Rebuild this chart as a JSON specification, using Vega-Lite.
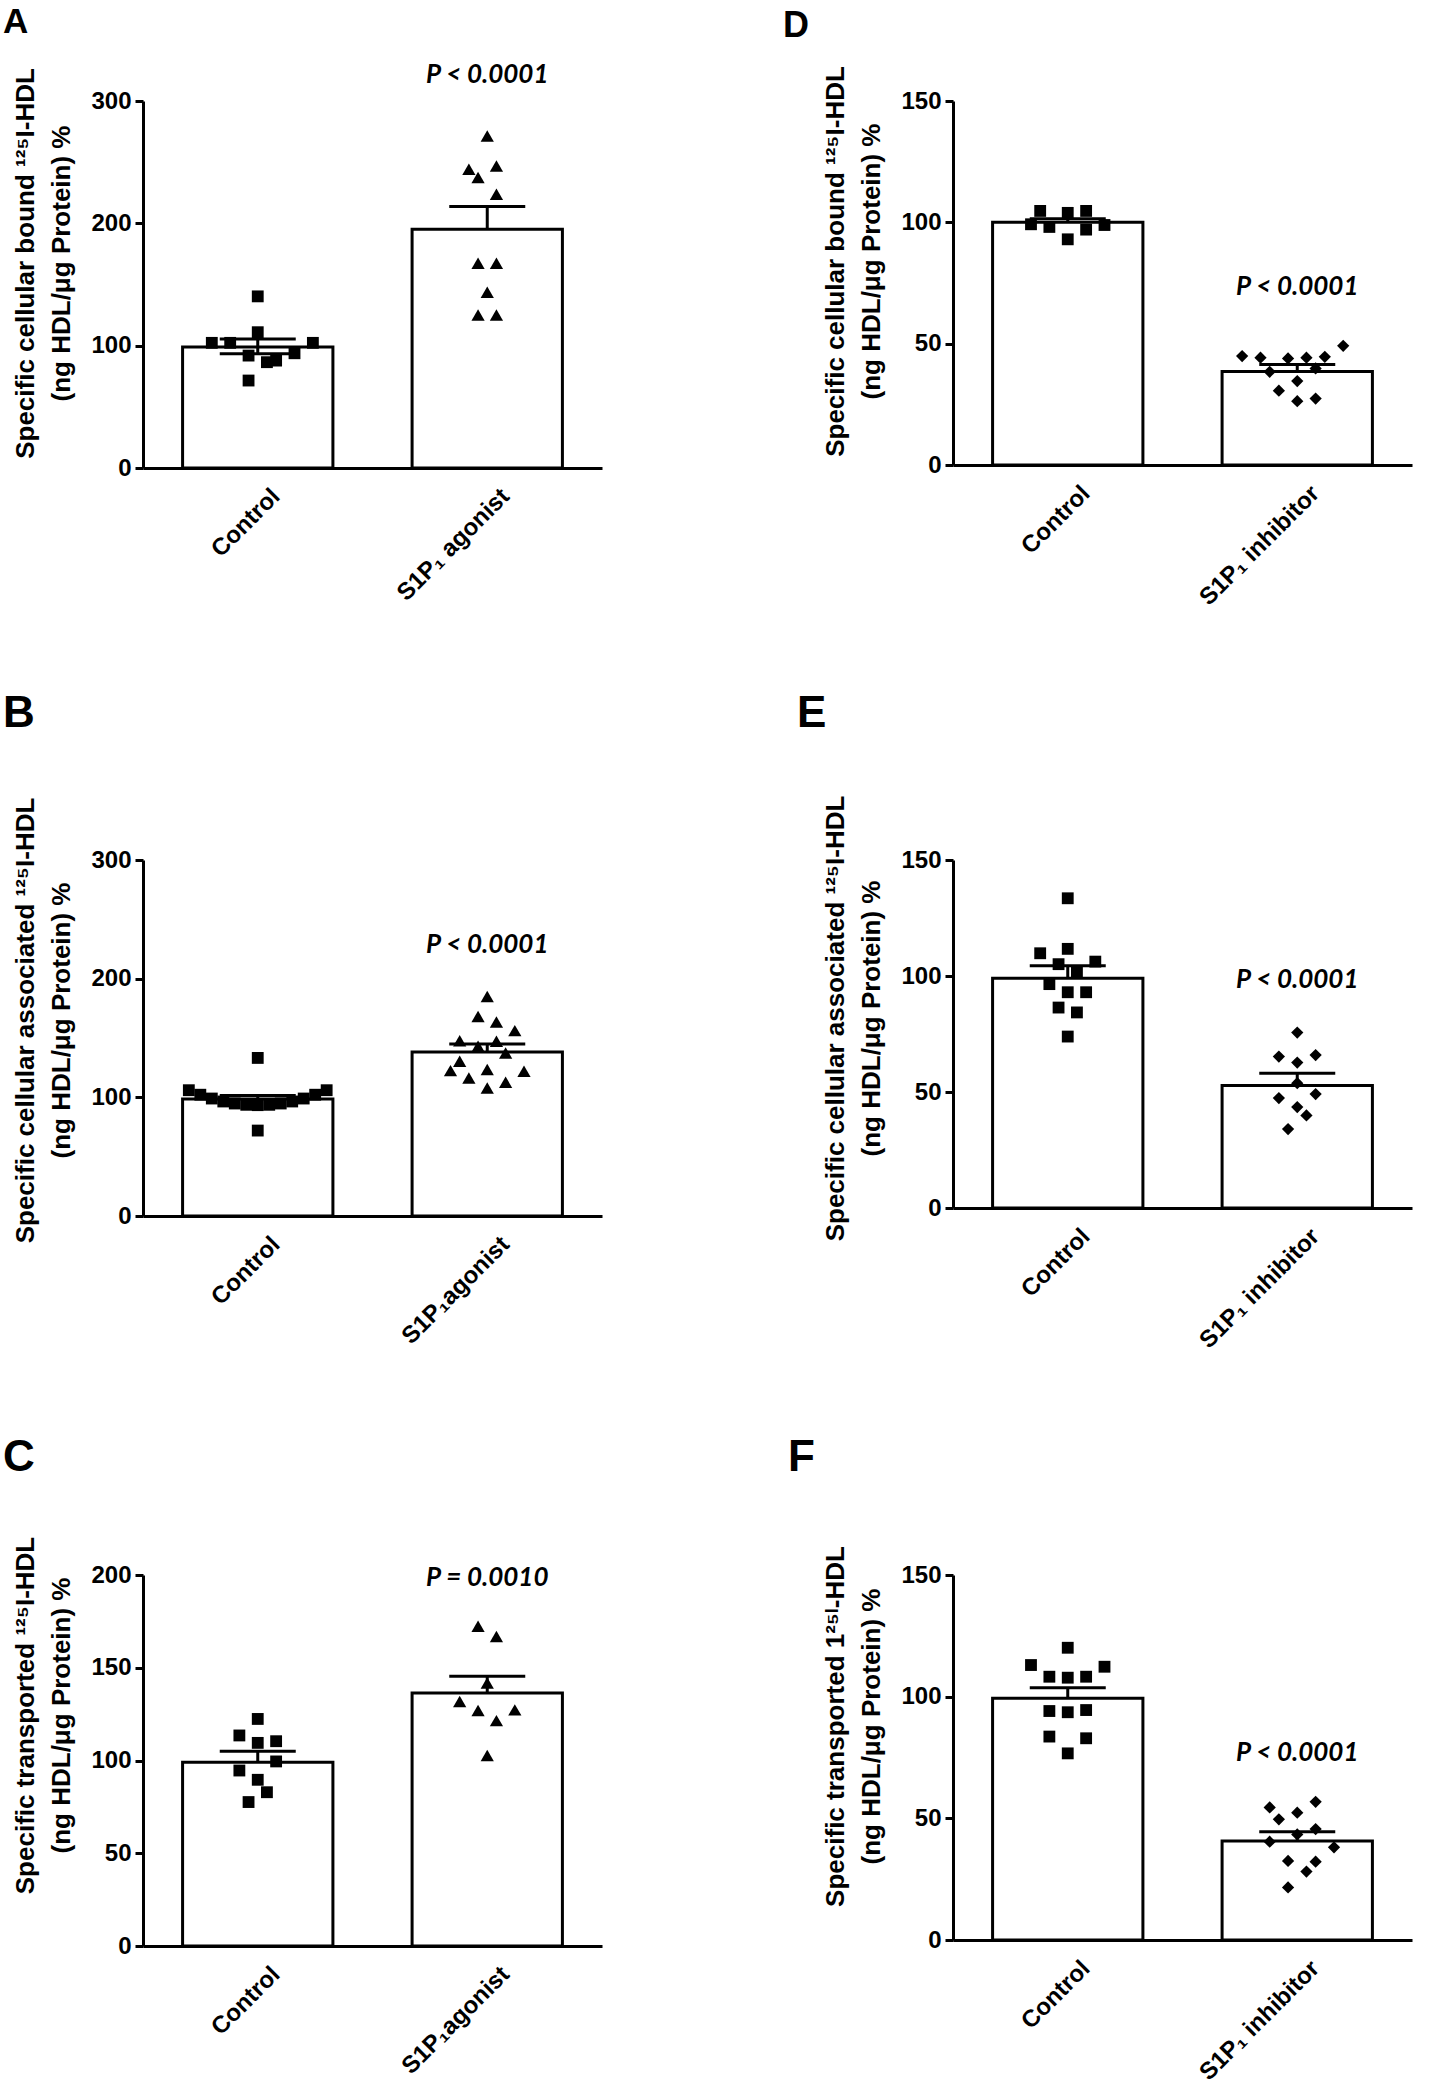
{
  "$schema": "https://vega.github.io/schema/vega-lite/v6.json",
  "background": "white",
  "padding": {"left": 3, "top": 5, "right": 5, "bottom": 2},
  "spacing": 82,
  "resolve": {"scale": {"shape": "independent", "size": "independent"}},
  "datasets": {
    "sum": [
      {"p": "A", "g": "C", "m": 99.0, "hi": 105.5, "lo": 93.3},
      {"p": "A", "g": "T", "m": 195.2, "hi": 213.8, "lo": 195.2, "pt": "P < 0.0001", "ly": 321},
      {"p": "B", "g": "C", "m": 98.7, "hi": 101.5, "lo": 98.7},
      {"p": "B", "g": "T", "m": 138.2, "hi": 144.9, "lo": 138.2, "pt": "P < 0.0001", "ly": 228.5},
      {"p": "C", "g": "C", "m": 99.1, "hi": 105.0, "lo": 99.1},
      {"p": "C", "g": "T", "m": 136.4, "hi": 145.4, "lo": 136.4, "pt": "P = 0.0010", "ly": 198.2},
      {"p": "D", "g": "C", "m": 100.0, "hi": 101.5, "lo": 100.0},
      {"p": "D", "g": "T", "m": 38.5, "hi": 41.4, "lo": 38.5, "pt": "P < 0.0001", "ly": 73.4},
      {"p": "E", "g": "C", "m": 99.0, "hi": 104.4, "lo": 99.0},
      {"p": "E", "g": "T", "m": 52.8, "hi": 58.1, "lo": 52.8, "pt": "P < 0.0001", "ly": 98.3},
      {"p": "F", "g": "C", "m": 99.3, "hi": 103.7, "lo": 99.3},
      {"p": "F", "g": "T", "m": 40.7, "hi": 44.5, "lo": 40.7, "pt": "P < 0.0001", "ly": 76.7}
    ],
    "pts": [
      {"p": "A", "g": "C", "v": 140.3, "dx": 0},
      {"p": "A", "g": "C", "v": 102.3, "dx": -5},
      {"p": "A", "g": "C", "v": 102.3, "dx": -3},
      {"p": "A", "g": "C", "v": 111.0, "dx": 0},
      {"p": "A", "g": "C", "v": 102.3, "dx": 6},
      {"p": "A", "g": "C", "v": 91.9, "dx": -1},
      {"p": "A", "g": "C", "v": 86.5, "dx": 1},
      {"p": "A", "g": "C", "v": 87.8, "dx": 2},
      {"p": "A", "g": "C", "v": 93.8, "dx": 4},
      {"p": "A", "g": "C", "v": 71.5, "dx": -1},
      {"p": "A", "g": "T", "v": 271.4, "dx": 0},
      {"p": "A", "g": "T", "v": 244.2, "dx": -2},
      {"p": "A", "g": "T", "v": 246.9, "dx": 1},
      {"p": "A", "g": "T", "v": 237.4, "dx": -1},
      {"p": "A", "g": "T", "v": 223.8, "dx": 1},
      {"p": "A", "g": "T", "v": 167.3, "dx": -1},
      {"p": "A", "g": "T", "v": 167.3, "dx": 1},
      {"p": "A", "g": "T", "v": 143.6, "dx": 0},
      {"p": "A", "g": "T", "v": 125.1, "dx": -1},
      {"p": "A", "g": "T", "v": 125.1, "dx": 1},
      {"p": "B", "g": "C", "v": 106.0, "dx": -7.5},
      {"p": "B", "g": "C", "v": 102.2, "dx": -6.25},
      {"p": "B", "g": "C", "v": 99.0, "dx": -5},
      {"p": "B", "g": "C", "v": 96.5, "dx": -3.75},
      {"p": "B", "g": "C", "v": 94.8, "dx": -2.5},
      {"p": "B", "g": "C", "v": 93.7, "dx": -1.25},
      {"p": "B", "g": "C", "v": 93.4, "dx": 0},
      {"p": "B", "g": "C", "v": 93.7, "dx": 1.25},
      {"p": "B", "g": "C", "v": 94.8, "dx": 2.5},
      {"p": "B", "g": "C", "v": 96.5, "dx": 3.75},
      {"p": "B", "g": "C", "v": 99.0, "dx": 5},
      {"p": "B", "g": "C", "v": 102.2, "dx": 6.25},
      {"p": "B", "g": "C", "v": 106.0, "dx": 7.5},
      {"p": "B", "g": "C", "v": 133.2, "dx": 0},
      {"p": "B", "g": "C", "v": 72.0, "dx": 0},
      {"p": "B", "g": "T", "v": 185.0, "dx": 0},
      {"p": "B", "g": "T", "v": 168.2, "dx": -1},
      {"p": "B", "g": "T", "v": 163.4, "dx": 1},
      {"p": "B", "g": "T", "v": 156.2, "dx": 3},
      {"p": "B", "g": "T", "v": 147.7, "dx": -3},
      {"p": "B", "g": "T", "v": 147.2, "dx": 1},
      {"p": "B", "g": "T", "v": 143.0, "dx": -1},
      {"p": "B", "g": "T", "v": 137.4, "dx": 2},
      {"p": "B", "g": "T", "v": 130.4, "dx": -3},
      {"p": "B", "g": "T", "v": 122.5, "dx": -4},
      {"p": "B", "g": "T", "v": 123.4, "dx": 0},
      {"p": "B", "g": "T", "v": 122.0, "dx": 4},
      {"p": "B", "g": "T", "v": 116.3, "dx": -2},
      {"p": "B", "g": "T", "v": 112.7, "dx": 2},
      {"p": "B", "g": "T", "v": 107.9, "dx": 0},
      {"p": "C", "g": "C", "v": 122.4, "dx": 0},
      {"p": "C", "g": "C", "v": 113.5, "dx": -2},
      {"p": "C", "g": "C", "v": 110.4, "dx": 2},
      {"p": "C", "g": "C", "v": 109.5, "dx": 0},
      {"p": "C", "g": "C", "v": 99.5, "dx": 2},
      {"p": "C", "g": "C", "v": 94.6, "dx": -2},
      {"p": "C", "g": "C", "v": 89.6, "dx": 0},
      {"p": "C", "g": "C", "v": 82.9, "dx": 1},
      {"p": "C", "g": "C", "v": 77.6, "dx": -1},
      {"p": "C", "g": "T", "v": 172.4, "dx": -1},
      {"p": "C", "g": "T", "v": 166.8, "dx": 1},
      {"p": "C", "g": "T", "v": 141.8, "dx": 0},
      {"p": "C", "g": "T", "v": 131.8, "dx": -3},
      {"p": "C", "g": "T", "v": 126.9, "dx": -1},
      {"p": "C", "g": "T", "v": 127.3, "dx": 3},
      {"p": "C", "g": "T", "v": 121.5, "dx": 1},
      {"p": "C", "g": "T", "v": 102.7, "dx": 0},
      {"p": "D", "g": "C", "v": 99.2, "dx": -4},
      {"p": "D", "g": "C", "v": 104.7, "dx": -3},
      {"p": "D", "g": "C", "v": 98.1, "dx": -2},
      {"p": "D", "g": "C", "v": 103.9, "dx": 0},
      {"p": "D", "g": "C", "v": 93.0, "dx": 0},
      {"p": "D", "g": "C", "v": 104.7, "dx": 2},
      {"p": "D", "g": "C", "v": 97.0, "dx": 2},
      {"p": "D", "g": "C", "v": 98.9, "dx": 4},
      {"p": "D", "g": "T", "v": 44.9, "dx": -6},
      {"p": "D", "g": "T", "v": 44.2, "dx": -4},
      {"p": "D", "g": "T", "v": 43.9, "dx": -1},
      {"p": "D", "g": "T", "v": 44.2, "dx": 1},
      {"p": "D", "g": "T", "v": 44.6, "dx": 3},
      {"p": "D", "g": "T", "v": 49.1, "dx": 5},
      {"p": "D", "g": "T", "v": 38.4, "dx": -3},
      {"p": "D", "g": "T", "v": 39.8, "dx": 2},
      {"p": "D", "g": "T", "v": 34.6, "dx": 0},
      {"p": "D", "g": "T", "v": 30.6, "dx": -2},
      {"p": "D", "g": "T", "v": 26.3, "dx": 0},
      {"p": "D", "g": "T", "v": 27.4, "dx": 2},
      {"p": "E", "g": "C", "v": 133.5, "dx": 0},
      {"p": "E", "g": "C", "v": 109.8, "dx": -3},
      {"p": "E", "g": "C", "v": 111.7, "dx": 0},
      {"p": "E", "g": "C", "v": 106.2, "dx": 3},
      {"p": "E", "g": "C", "v": 105.1, "dx": -1},
      {"p": "E", "g": "C", "v": 101.5, "dx": 1},
      {"p": "E", "g": "C", "v": 96.5, "dx": -2},
      {"p": "E", "g": "C", "v": 93.0, "dx": 0},
      {"p": "E", "g": "C", "v": 93.0, "dx": 2},
      {"p": "E", "g": "C", "v": 86.4, "dx": -1},
      {"p": "E", "g": "C", "v": 84.3, "dx": 1},
      {"p": "E", "g": "C", "v": 73.9, "dx": 0},
      {"p": "E", "g": "T", "v": 75.6, "dx": 0},
      {"p": "E", "g": "T", "v": 65.3, "dx": -2},
      {"p": "E", "g": "T", "v": 65.9, "dx": 2},
      {"p": "E", "g": "T", "v": 62.7, "dx": 0},
      {"p": "E", "g": "T", "v": 53.8, "dx": 0},
      {"p": "E", "g": "T", "v": 49.1, "dx": 2},
      {"p": "E", "g": "T", "v": 47.4, "dx": -2},
      {"p": "E", "g": "T", "v": 43.5, "dx": 0},
      {"p": "E", "g": "T", "v": 39.9, "dx": 1},
      {"p": "E", "g": "T", "v": 34.0, "dx": -1},
      {"p": "F", "g": "C", "v": 120.1, "dx": 0},
      {"p": "F", "g": "C", "v": 113.0, "dx": -4},
      {"p": "F", "g": "C", "v": 112.3, "dx": 4},
      {"p": "F", "g": "C", "v": 108.2, "dx": -2},
      {"p": "F", "g": "C", "v": 107.8, "dx": 0},
      {"p": "F", "g": "C", "v": 108.2, "dx": 2},
      {"p": "F", "g": "C", "v": 94.1, "dx": -2},
      {"p": "F", "g": "C", "v": 93.6, "dx": 0},
      {"p": "F", "g": "C", "v": 94.5, "dx": 2},
      {"p": "F", "g": "C", "v": 83.6, "dx": -2},
      {"p": "F", "g": "C", "v": 82.9, "dx": 2},
      {"p": "F", "g": "C", "v": 76.7, "dx": 0},
      {"p": "F", "g": "T", "v": 56.8, "dx": 2},
      {"p": "F", "g": "T", "v": 54.5, "dx": -3},
      {"p": "F", "g": "T", "v": 52.3, "dx": 0},
      {"p": "F", "g": "T", "v": 49.6, "dx": -2},
      {"p": "F", "g": "T", "v": 45.6, "dx": 2},
      {"p": "F", "g": "T", "v": 43.4, "dx": 0},
      {"p": "F", "g": "T", "v": 40.4, "dx": -3},
      {"p": "F", "g": "T", "v": 38.1, "dx": 4},
      {"p": "F", "g": "T", "v": 32.5, "dx": -1},
      {"p": "F", "g": "T", "v": 32.2, "dx": 2},
      {"p": "F", "g": "T", "v": 28.1, "dx": 1},
      {"p": "F", "g": "T", "v": 21.6, "dx": -1}
    ]
  },
  "vconcat": [
    {
      "bounds": "flush",
      "spacing": 351,
      "resolve": {"scale": {"shape": "independent", "size": "independent"}},
      "hconcat": [
        {
          "width": 459, "height": 367,
          "title": {"text": "A", "anchor": "start", "frame": "group", "dx": -140, "offset": -6, "fontSize": 35, "baseline": "alphabetic"},
          "resolve": {"scale": {"xOffset": "independent"}},
          "encoding": {"x": {"field": "g", "type": "nominal", "title": null, "scale": {"domain": ["C", "T"], "paddingInner": 0.345, "paddingOuter": 0.1725}, "axis": {"labelExpr": "datum.value === 'C' ? 'Control' : 'S1P₁ agonist'"}}},
          "layer": [
            {"data": {"name": "sum"}, "transform": [{"filter": "datum.p === 'A'"}], "mark": {"type": "bar", "fill": "white", "stroke": "black", "strokeWidth": 3}, "encoding": {"y": {"field": "m", "type": "quantitative", "scale": {"domain": [0, 300], "nice": false}, "axis": {"values": [0, 100, 200, 300], "titleY": 162, "title": ["Specific cellular bound ¹²⁵I-HDL", "(ng HDL/μg Protein) %"]}}}},
            {"data": {"name": "pts"}, "transform": [{"filter": "datum.p === 'A'"}], "mark": {"type": "point", "filled": true, "color": "black", "opacity": 1, "strokeWidth": 0}, "encoding": {"y": {"field": "v", "type": "quantitative"}, "xOffset": {"field": "dx", "type": "quantitative", "scale": {"domain": [-8.18, 8.18]}}, "shape": {"field": "g", "type": "nominal", "scale": {"domain": ["C", "T"], "range": ["square", "triangle-up"]}, "legend": null}, "size": {"field": "g", "type": "nominal", "scale": {"domain": ["C", "T"], "range": [140, 175]}, "legend": null}}},
            {"data": {"name": "sum"}, "transform": [{"filter": "datum.p === 'A'"}], "mark": {"type": "rule", "strokeWidth": 3, "color": "black"}, "encoding": {"y": {"field": "lo", "type": "quantitative"}, "y2": {"field": "hi"}}},
            {"data": {"name": "sum"}, "transform": [{"filter": "datum.p === 'A'"}], "mark": {"type": "tick", "orient": "horizontal", "size": 76, "thickness": 3, "color": "black", "opacity": 1}, "encoding": {"y": {"field": "hi", "type": "quantitative"}}},
            {"data": {"name": "sum"}, "transform": [{"filter": "datum.p === 'A' && datum.lo < datum.m"}], "mark": {"type": "tick", "orient": "horizontal", "size": 76, "thickness": 3, "color": "black", "opacity": 1}, "encoding": {"y": {"field": "lo", "type": "quantitative"}}},
            {"data": {"name": "sum"}, "transform": [{"filter": "datum.p === 'A' && isValid(datum.pt)"}], "mark": {"type": "text", "font": "Lato", "fontStyle": "italic", "fontWeight": "bold", "fontSize": 26, "baseline": "middle", "color": "black"}, "encoding": {"y": {"field": "ly", "type": "quantitative"}, "text": {"field": "pt"}}}
          ]
        },
        {
          "width": 459, "height": 364,
          "title": {"text": "D", "anchor": "start", "frame": "group", "dx": -170, "offset": -7, "fontSize": 36, "baseline": "alphabetic"},
          "resolve": {"scale": {"xOffset": "independent"}},
          "encoding": {"x": {"field": "g", "type": "nominal", "title": null, "scale": {"domain": ["C", "T"], "paddingInner": 0.345, "paddingOuter": 0.1725}, "axis": {"labelExpr": "datum.value === 'C' ? 'Control' : 'S1P₁ inhibitor'"}}},
          "layer": [
            {"data": {"name": "sum"}, "transform": [{"filter": "datum.p === 'D'"}], "mark": {"type": "bar", "fill": "white", "stroke": "black", "strokeWidth": 3}, "encoding": {"y": {"field": "m", "type": "quantitative", "scale": {"domain": [0, 150], "nice": false}, "axis": {"values": [0, 50, 100, 150], "titleY": 160, "title": ["Specific cellular bound ¹²⁵I-HDL", "(ng HDL/μg Protein) %"]}}}},
            {"data": {"name": "pts"}, "transform": [{"filter": "datum.p === 'D'"}], "mark": {"type": "point", "filled": true, "color": "black", "opacity": 1, "strokeWidth": 0}, "encoding": {"y": {"field": "v", "type": "quantitative"}, "xOffset": {"field": "dx", "type": "quantitative", "scale": {"domain": [-8.18, 8.18]}}, "shape": {"field": "g", "type": "nominal", "scale": {"domain": ["C", "T"], "range": ["square", "diamond"]}, "legend": null}, "size": {"field": "g", "type": "nominal", "scale": {"domain": ["C", "T"], "range": [140, 150]}, "legend": null}}},
            {"data": {"name": "sum"}, "transform": [{"filter": "datum.p === 'D'"}], "mark": {"type": "rule", "strokeWidth": 3, "color": "black"}, "encoding": {"y": {"field": "lo", "type": "quantitative"}, "y2": {"field": "hi"}}},
            {"data": {"name": "sum"}, "transform": [{"filter": "datum.p === 'D'"}], "mark": {"type": "tick", "orient": "horizontal", "size": 76, "thickness": 3, "color": "black", "opacity": 1}, "encoding": {"y": {"field": "hi", "type": "quantitative"}}},
            {"data": {"name": "sum"}, "transform": [{"filter": "datum.p === 'D' && isValid(datum.pt)"}], "mark": {"type": "text", "font": "Lato", "fontStyle": "italic", "fontWeight": "bold", "fontSize": 26, "baseline": "middle", "color": "black"}, "encoding": {"y": {"field": "ly", "type": "quantitative"}, "text": {"field": "pt"}}}
          ]
        }
      ]
    },
    {
      "bounds": "flush",
      "spacing": 351,
      "resolve": {"scale": {"shape": "independent", "size": "independent"}},
      "hconcat": [
        {
          "width": 459, "height": 356,
          "title": {"text": "B", "anchor": "start", "frame": "group", "dx": -140, "offset": 26, "fontSize": 44, "baseline": "alphabetic"},
          "resolve": {"scale": {"xOffset": "independent"}},
          "encoding": {"x": {"field": "g", "type": "nominal", "title": null, "scale": {"domain": ["C", "T"], "paddingInner": 0.345, "paddingOuter": 0.1725}, "axis": {"labelExpr": "datum.value === 'C' ? 'Control' : 'S1P₁agonist'"}}},
          "layer": [
            {"data": {"name": "sum"}, "transform": [{"filter": "datum.p === 'B'"}], "mark": {"type": "bar", "fill": "white", "stroke": "black", "strokeWidth": 3}, "encoding": {"y": {"field": "m", "type": "quantitative", "scale": {"domain": [0, 300], "nice": false}, "axis": {"values": [0, 100, 200, 300], "titleY": 160, "title": ["Specific cellular associated ¹²⁵I-HDL", "(ng HDL/μg Protein) %"]}}}},
            {"data": {"name": "pts"}, "transform": [{"filter": "datum.p === 'B'"}], "mark": {"type": "point", "filled": true, "color": "black", "opacity": 1, "strokeWidth": 0}, "encoding": {"y": {"field": "v", "type": "quantitative"}, "xOffset": {"field": "dx", "type": "quantitative", "scale": {"domain": [-8.18, 8.18]}}, "shape": {"field": "g", "type": "nominal", "scale": {"domain": ["C", "T"], "range": ["square", "triangle-up"]}, "legend": null}, "size": {"field": "g", "type": "nominal", "scale": {"domain": ["C", "T"], "range": [140, 175]}, "legend": null}}},
            {"data": {"name": "sum"}, "transform": [{"filter": "datum.p === 'B'"}], "mark": {"type": "rule", "strokeWidth": 3, "color": "black"}, "encoding": {"y": {"field": "lo", "type": "quantitative"}, "y2": {"field": "hi"}}},
            {"data": {"name": "sum"}, "transform": [{"filter": "datum.p === 'B'"}], "mark": {"type": "tick", "orient": "horizontal", "size": 76, "thickness": 3, "color": "black", "opacity": 1}, "encoding": {"y": {"field": "hi", "type": "quantitative"}}},
            {"data": {"name": "sum"}, "transform": [{"filter": "datum.p === 'B' && isValid(datum.pt)"}], "mark": {"type": "text", "font": "Lato", "fontStyle": "italic", "fontWeight": "bold", "fontSize": 26, "baseline": "middle", "color": "black"}, "encoding": {"y": {"field": "ly", "type": "quantitative"}, "text": {"field": "pt"}}}
          ]
        },
        {
          "width": 459, "height": 348,
          "title": {"text": "E", "anchor": "start", "frame": "group", "dx": -156, "offset": 24, "fontSize": 44, "baseline": "alphabetic"},
          "resolve": {"scale": {"xOffset": "independent"}},
          "encoding": {"x": {"field": "g", "type": "nominal", "title": null, "scale": {"domain": ["C", "T"], "paddingInner": 0.345, "paddingOuter": 0.1725}, "axis": {"labelExpr": "datum.value === 'C' ? 'Control' : 'S1P₁ inhibitor'"}}},
          "layer": [
            {"data": {"name": "sum"}, "transform": [{"filter": "datum.p === 'E'"}], "mark": {"type": "bar", "fill": "white", "stroke": "black", "strokeWidth": 3}, "encoding": {"y": {"field": "m", "type": "quantitative", "scale": {"domain": [0, 150], "nice": false}, "axis": {"values": [0, 50, 100, 150], "titleY": 158, "title": ["Specific cellular associated ¹²⁵I-HDL", "(ng HDL/μg Protein) %"]}}}},
            {"data": {"name": "pts"}, "transform": [{"filter": "datum.p === 'E'"}], "mark": {"type": "point", "filled": true, "color": "black", "opacity": 1, "strokeWidth": 0}, "encoding": {"y": {"field": "v", "type": "quantitative"}, "xOffset": {"field": "dx", "type": "quantitative", "scale": {"domain": [-8.18, 8.18]}}, "shape": {"field": "g", "type": "nominal", "scale": {"domain": ["C", "T"], "range": ["square", "diamond"]}, "legend": null}, "size": {"field": "g", "type": "nominal", "scale": {"domain": ["C", "T"], "range": [140, 150]}, "legend": null}}},
            {"data": {"name": "sum"}, "transform": [{"filter": "datum.p === 'E'"}], "mark": {"type": "rule", "strokeWidth": 3, "color": "black"}, "encoding": {"y": {"field": "lo", "type": "quantitative"}, "y2": {"field": "hi"}}},
            {"data": {"name": "sum"}, "transform": [{"filter": "datum.p === 'E'"}], "mark": {"type": "tick", "orient": "horizontal", "size": 76, "thickness": 3, "color": "black", "opacity": 1}, "encoding": {"y": {"field": "hi", "type": "quantitative"}}},
            {"data": {"name": "sum"}, "transform": [{"filter": "datum.p === 'E' && isValid(datum.pt)"}], "mark": {"type": "text", "font": "Lato", "fontStyle": "italic", "fontWeight": "bold", "fontSize": 26, "baseline": "middle", "color": "black"}, "encoding": {"y": {"field": "ly", "type": "quantitative"}, "text": {"field": "pt"}}}
          ]
        }
      ]
    },
    {
      "bounds": "flush",
      "spacing": 351,
      "resolve": {"scale": {"shape": "independent", "size": "independent"}},
      "hconcat": [
        {
          "width": 459, "height": 371,
          "title": {"text": "C", "anchor": "start", "frame": "group", "dx": -140, "offset": 21, "fontSize": 44, "baseline": "alphabetic"},
          "resolve": {"scale": {"xOffset": "independent"}},
          "encoding": {"x": {"field": "g", "type": "nominal", "title": null, "scale": {"domain": ["C", "T"], "paddingInner": 0.345, "paddingOuter": 0.1725}, "axis": {"labelExpr": "datum.value === 'C' ? 'Control' : 'S1P₁agonist'"}}},
          "layer": [
            {"data": {"name": "sum"}, "transform": [{"filter": "datum.p === 'C'"}], "mark": {"type": "bar", "fill": "white", "stroke": "black", "strokeWidth": 3}, "encoding": {"y": {"field": "m", "type": "quantitative", "scale": {"domain": [0, 200], "nice": false}, "axis": {"values": [0, 50, 100, 150, 200], "titleY": 140, "title": ["Specific transported ¹²⁵I-HDL", "(ng HDL/μg Protein) %"]}}}},
            {"data": {"name": "pts"}, "transform": [{"filter": "datum.p === 'C'"}], "mark": {"type": "point", "filled": true, "color": "black", "opacity": 1, "strokeWidth": 0}, "encoding": {"y": {"field": "v", "type": "quantitative"}, "xOffset": {"field": "dx", "type": "quantitative", "scale": {"domain": [-8.18, 8.18]}}, "shape": {"field": "g", "type": "nominal", "scale": {"domain": ["C", "T"], "range": ["square", "triangle-up"]}, "legend": null}, "size": {"field": "g", "type": "nominal", "scale": {"domain": ["C", "T"], "range": [140, 175]}, "legend": null}}},
            {"data": {"name": "sum"}, "transform": [{"filter": "datum.p === 'C'"}], "mark": {"type": "rule", "strokeWidth": 3, "color": "black"}, "encoding": {"y": {"field": "lo", "type": "quantitative"}, "y2": {"field": "hi"}}},
            {"data": {"name": "sum"}, "transform": [{"filter": "datum.p === 'C'"}], "mark": {"type": "tick", "orient": "horizontal", "size": 76, "thickness": 3, "color": "black", "opacity": 1}, "encoding": {"y": {"field": "hi", "type": "quantitative"}}},
            {"data": {"name": "sum"}, "transform": [{"filter": "datum.p === 'C' && isValid(datum.pt)"}], "mark": {"type": "text", "font": "Lato", "fontStyle": "italic", "fontWeight": "bold", "fontSize": 26, "baseline": "middle", "color": "black"}, "encoding": {"y": {"field": "ly", "type": "quantitative"}, "text": {"field": "pt"}}}
          ]
        },
        {
          "width": 459, "height": 365,
          "title": {"text": "F", "anchor": "start", "frame": "group", "dx": -165, "offset": 31, "fontSize": 44, "baseline": "alphabetic"},
          "resolve": {"scale": {"xOffset": "independent"}},
          "encoding": {"x": {"field": "g", "type": "nominal", "title": null, "scale": {"domain": ["C", "T"], "paddingInner": 0.345, "paddingOuter": 0.1725}, "axis": {"labelExpr": "datum.value === 'C' ? 'Control' : 'S1P₁ inhibitor'"}}},
          "layer": [
            {"data": {"name": "sum"}, "transform": [{"filter": "datum.p === 'F'"}], "mark": {"type": "bar", "fill": "white", "stroke": "black", "strokeWidth": 3}, "encoding": {"y": {"field": "m", "type": "quantitative", "scale": {"domain": [0, 150], "nice": false}, "axis": {"values": [0, 50, 100, 150], "titleY": 151, "title": ["Specific transported 1²⁵ᴵ-HDL", "(ng HDL/μg Protein) %"]}}}},
            {"data": {"name": "pts"}, "transform": [{"filter": "datum.p === 'F'"}], "mark": {"type": "point", "filled": true, "color": "black", "opacity": 1, "strokeWidth": 0}, "encoding": {"y": {"field": "v", "type": "quantitative"}, "xOffset": {"field": "dx", "type": "quantitative", "scale": {"domain": [-8.18, 8.18]}}, "shape": {"field": "g", "type": "nominal", "scale": {"domain": ["C", "T"], "range": ["square", "diamond"]}, "legend": null}, "size": {"field": "g", "type": "nominal", "scale": {"domain": ["C", "T"], "range": [140, 150]}, "legend": null}}},
            {"data": {"name": "sum"}, "transform": [{"filter": "datum.p === 'F'"}], "mark": {"type": "rule", "strokeWidth": 3, "color": "black"}, "encoding": {"y": {"field": "lo", "type": "quantitative"}, "y2": {"field": "hi"}}},
            {"data": {"name": "sum"}, "transform": [{"filter": "datum.p === 'F'"}], "mark": {"type": "tick", "orient": "horizontal", "size": 76, "thickness": 3, "color": "black", "opacity": 1}, "encoding": {"y": {"field": "hi", "type": "quantitative"}}},
            {"data": {"name": "sum"}, "transform": [{"filter": "datum.p === 'F' && isValid(datum.pt)"}], "mark": {"type": "text", "font": "Lato", "fontStyle": "italic", "fontWeight": "bold", "fontSize": 26, "baseline": "middle", "color": "black"}, "encoding": {"y": {"field": "ly", "type": "quantitative"}, "text": {"field": "pt"}}}
          ]
        }
      ]
    }
  ],
  "config": {
    "view": {"stroke": null},
    "font": "Liberation Sans",
    "title": {"font": "Liberation Sans", "fontWeight": "bold", "color": "black"},
    "axis": {"labelFont": "Liberation Sans", "labelFontWeight": "bold", "labelFontSize": 24, "labelColor": "black", "domainColor": "black", "domainWidth": 3, "tickColor": "black", "tickWidth": 3, "tickSize": 8, "grid": false, "titleFont": "Liberation Sans", "titleFontWeight": "bold", "titleFontSize": 26, "titleColor": "black", "labelOverlap": false},
    "axisX": {"labelAngle": -45, "labelAlign": "right", "labelBaseline": "top", "ticks": false, "labelPadding": 16, "labelOffset": 10},
    "axisY": {"labelPadding": 4, "titlePadding": 16, "titleLineHeight": 36}
  }
}
